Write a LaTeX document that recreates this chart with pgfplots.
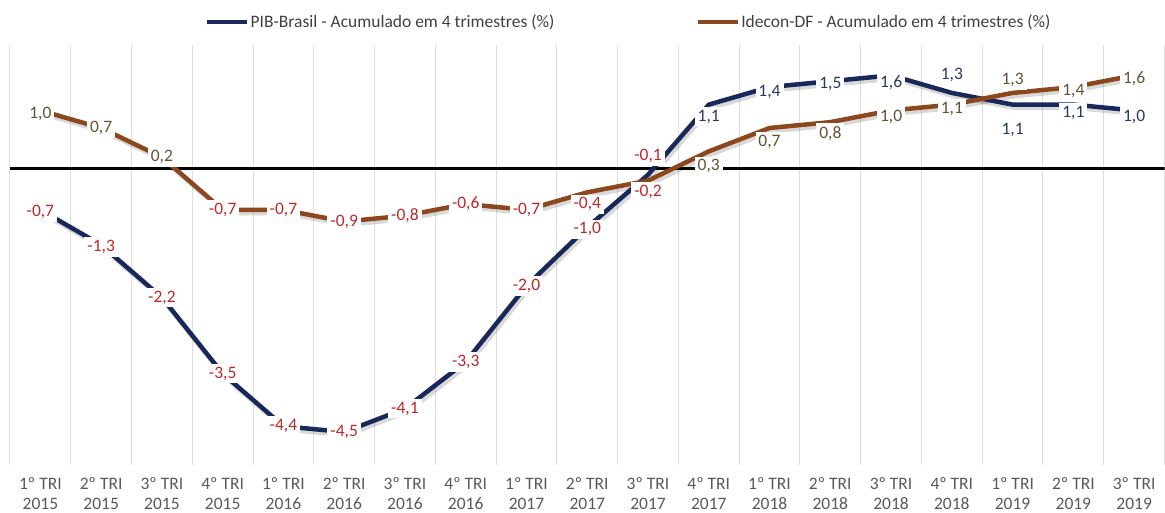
\documentclass[border=0pt]{standalone}
\usepackage{fontspec}
\setmainfont{Carlito}
\usepackage{pgfplots}
\usepackage{pgfplotstable}
\pgfplotsset{compat=1.18}
\definecolor{pibc}{RGB}{24,40,90}
\definecolor{idcc}{RGB}{140,72,28}
\definecolor{negred}{RGB}{192,40,40}
\definecolor{pibpos}{RGB}{40,58,95}
\definecolor{idcpos}{RGB}{100,82,55}
\definecolor{gridc}{RGB}{222,222,222}
\definecolor{tickc}{RGB}{89,89,89}
\pgfplotstableread{
x pib dp idc di
0 -0.7 -2 1.0 -3
1 -1.3 -2 0.7 0
2 -2.2 0 0.2 0
3 -3.5 0 -0.7 0
4 -4.4 0 -0.7 0
5 -4.5 0 -0.9 0
6 -4.1 0 -0.8 0
7 -3.3 0 -0.6 0
8 -2.0 0 -0.7 0
9 -1.0 -2 -0.4 -12
10 -0.1 19 -0.2 -11
11 1.1 -12 0.3 -15
12 1.4 -5 0.7 -14
13 1.5 -3 0.8 -11
14 1.6 -7 1.0 -6
15 1.3 18 1.1 -4
16 1.1 -25 1.3 13
17 1.1 -8 1.4 -4
18 1.0 -6 1.6 -3
}\data
\begin{document}
\begin{tikzpicture}
\path (-10bp,-47bp) rectangle (1155bp,465bp);
\begin{axis}[
  scale only axis, width=1155bp, height=420bp,
  xmin=-0.5, xmax=18.5, ymin=-5.06, ymax=2.12,
  axis line style={draw=none},
  ytick=\empty,
  xtick={0,...,18},
  xticklabels={1º TRI\\2015,2º TRI\\2015,3º TRI\\2015,4º TRI\\2015,1º TRI\\2016,2º TRI\\2016,3º TRI\\2016,4º TRI\\2016,1º TRI\\2017,2º TRI\\2017,3º TRI\\2017,4º TRI\\2017,1º TRI\\2018,2º TRI\\2018,3º TRI\\2018,4º TRI\\2018,1º TRI\\2019,2º TRI\\2019,3º TRI\\2019},
  minor xtick={-0.5,0.5,...,18.5},
  xminorgrids, minor grid style={gridc, line width=1bp},
  major tick length=0pt, minor tick length=0pt,
  xticklabel style={align=center, font=\fontsize{17.5bp}{20bp}\selectfont, text=tickc, yshift=-9bp},
  legend columns=2,
  legend style={at={(rel axis cs:0,1)}, anchor=west, xshift=195bp, yshift=23bp, draw=none, fill=none, inner sep=0pt,
    font=\fontsize{17.5bp}{20bp}\selectfont, text=black!75,
    /tikz/every even column/.append style={column sep=140bp}, nodes={inner sep=1.5bp}},
  legend image code/.code={\draw[#1, line width=4bp] (0bp,0bp) -- (40bp,0bp);},
  every node near coord/.append style={anchor=center, fill=white, inner sep=3bp, font=\fontsize{17.5bp}{20bp}\selectfont},
]
\addplot[forget plot, black, line width=3bp] coordinates {(-0.5,0) (18.5,0)};
\addplot[forget plot, black, opacity=0.15, line width=5bp, line join=round, xshift=2bp, yshift=-3bp] table[x=x,y=pib]{\data};
\addplot[forget plot, black, opacity=0.15, line width=5bp, line join=round, xshift=2bp, yshift=-3bp] table[x=x,y=idc]{\data};
\addplot[pibc, line width=4.5bp, line join=round] table[x=x,y=pib]{\data};
\addlegendentry{PIB-Brasil - Acumulado em 4 trimestres (\%)}
\addplot[idcc, line width=4.5bp, line join=round] table[x=x,y=idc]{\data};
\addlegendentry{Idecon-DF - Acumulado em 4 trimestres (\%)}
% labels
\addplot[forget plot, draw=none, point meta=y, restrict y to domain=-10:-0.01,
  nodes near coords={\pgfmathprintnumber[fixed,fixed zerofill,precision=1,use comma,assume math mode=true]{\pgfplotspointmeta}},
  visualization depends on={\thisrow{dp} \as \dd},
  every node near coord/.append style={text=negred, yshift=\dd bp}] table[x=x,y=pib]{\data};
\addplot[forget plot, draw=none, point meta=y, restrict y to domain=0:10,
  nodes near coords={\pgfmathprintnumber[fixed,fixed zerofill,precision=1,use comma,assume math mode=true]{\pgfplotspointmeta}},
  visualization depends on={\thisrow{dp} \as \dd},
  every node near coord/.append style={text=pibpos, yshift=\dd bp}] table[x=x,y=pib]{\data};
\addplot[forget plot, draw=none, point meta=y, restrict y to domain=-10:-0.01,
  nodes near coords={\pgfmathprintnumber[fixed,fixed zerofill,precision=1,use comma,assume math mode=true]{\pgfplotspointmeta}},
  visualization depends on={\thisrow{di} \as \dd},
  every node near coord/.append style={text=negred, yshift=\dd bp}] table[x=x,y=idc]{\data};
\addplot[forget plot, draw=none, point meta=y, restrict y to domain=0:10,
  nodes near coords={\pgfmathprintnumber[fixed,fixed zerofill,precision=1,use comma,assume math mode=true]{\pgfplotspointmeta}},
  visualization depends on={\thisrow{di} \as \dd},
  every node near coord/.append style={text=idcpos, yshift=\dd bp}] table[x=x,y=idc]{\data};
\end{axis}
\end{tikzpicture}
\end{document}
